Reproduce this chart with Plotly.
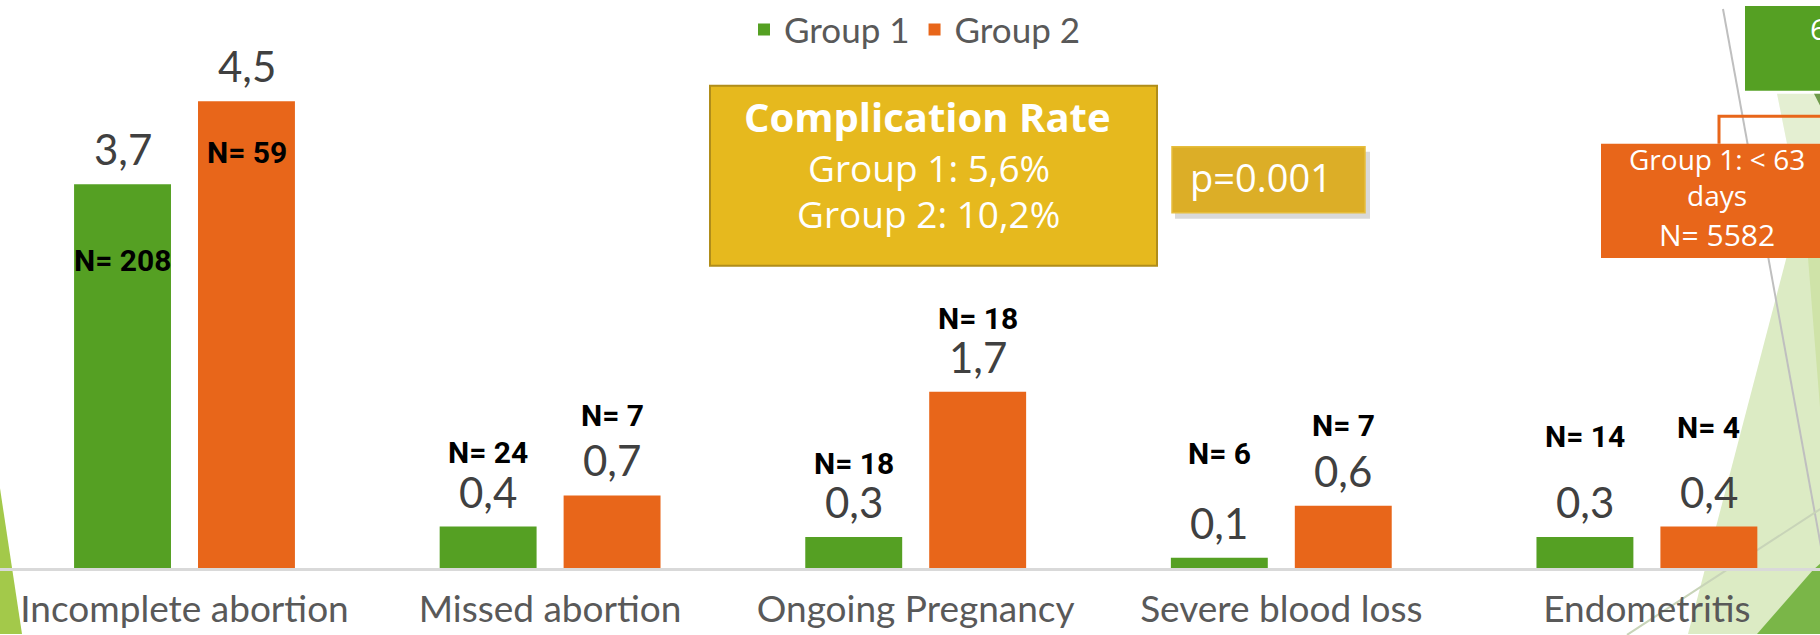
import plotly.graph_objects as go

# Data
CATEGORIES = ["Incomplete abortion", "Missed abortion", "Ongoing Pregnancy",
              "Severe blood loss", "Endometritis"]
SERIES = ["Group 1", "Group 2"]
GROUP1_RATE = [3.7, 0.4, 0.3, 0.1, 0.3]
GROUP2_RATE = [4.5, 0.7, 1.7, 0.6, 0.4]
GROUP1_N = [208, 24, 18, 6, 14]
GROUP2_N = [59, 7, 18, 7, 4]
RATE_TITLE = "Complication Rate"
RATE_LINES = ["Group 1: 5,6%", "Group 2: 10,2%"]
P_VALUE = "p=0.001"
SIDE_BOX_TITLE = "Group 1: &lt; 63<br>days"
SIDE_BOX_N = "N= 5582"

# Colours
GREEN = '#55a023'
ORANGE = '#e8661a'
GOLD = '#e6b91e'
GREY_TEXT = '#595959'

# Canvas geometry (pixels)
W, H = 1820, 635
PLOT_BOTTOM = 568
PX_PER_UNIT = 105.4
CAT_STEP = 365.6
FIRST_CAT_X = 184.5
BAR_SHIFT = 62

# N label offsets above the bar top, pixels (negative = inside the bar)
N1_SHIFT = [-76, 74, 73, 104, 100]
N2_SHIFT = [-51, 80, 73, 80, 99]


def px(x):
    return x / W


def py(y):
    return (PLOT_BOTTOM - y) / PLOT_BOTTOM


def fmt(v):
    return f"{v:.1f}".replace(".", ",")


fig = go.Figure()
for name, vals, color in [(SERIES[0], GROUP1_RATE, GREEN), (SERIES[1], GROUP2_RATE, ORANGE)]:
    fig.add_trace(go.Bar(
        x=CATEGORIES,
        y=vals,
        name=name,
        marker=dict(color=color, line=dict(width=0)),
        hoverinfo='x+y'
    ))

annotations = []
for i, cat in enumerate(CATEGORIES):
    for vals, ns, shifts, xs in [(GROUP1_RATE, GROUP1_N, N1_SHIFT, -BAR_SHIFT),
                                 (GROUP2_RATE, GROUP2_N, N2_SHIFT, BAR_SHIFT)]:
        annotations.append(dict(
            x=cat, y=vals[i], xref='x', yref='y', xshift=xs, yshift=35,
            text=fmt(vals[i]), showarrow=False, xanchor='center', yanchor='middle',
            font=dict(family='Lato', size=42, color='#404040')
        ))
        annotations.append(dict(
            x=cat, y=vals[i], xref='x', yref='y', xshift=xs, yshift=shifts[i],
            text=f"<b>N= {ns[i]}</b>", showarrow=False, xanchor='center', yanchor='middle',
            font=dict(family='Roboto', size=30, color='#000000')
        ))


def label(x, y, text, size, family='Open Sans', anchor='center'):
    return dict(
        x=px(x), y=py(y), xref='paper', yref='paper', showarrow=False,
        text=text, xanchor=anchor, yanchor='middle', borderpad=0,
        font=dict(family=family, size=size, color='white')
    )


# Complication rate box text
annotations.append(label(928, 109, f"<b>{RATE_TITLE}</b>", 40))
for k, line in enumerate(RATE_LINES):
    annotations.append(label(929, 161 + 47 * k, line, 37))

# p-value
annotations.append(label(1189, 171, P_VALUE, 38, anchor='left'))

# side box on the right
annotations.append(label(1717, 171, SIDE_BOX_TITLE, 28))
annotations.append(label(1717, 229, SIDE_BOX_N, 30))
annotations.append(label(1809, 20, "63", 30, anchor='left'))


def poly(points):
    d = "M " + " L ".join(f"{px(x)},{py(y)}" for x, y in points) + " Z"
    return d


shapes = [
    # background facets
    dict(type='path', path=poly([(0, 487), (22, 635), (0, 635)]),
         xref='paper', yref='paper', fillcolor='#a3c94a', line=dict(width=0), layer='below'),
    dict(type='path', path=poly([(1800, 200), (1822, 140), (1822, 635), (1688, 635)]),
         xref='paper', yref='paper', fillcolor='#dcebc4', line=dict(width=0), layer='below'),
    dict(type='path', path=poly([(1808, 253), (1822, 253), (1822, 430)]),
         xref='paper', yref='paper', fillcolor='#cfe3a8', line=dict(width=0), layer='below'),
    dict(type='path', path=poly([(1777, 86), (1822, 86), (1822, 137), (1787, 137)]),
         xref='paper', yref='paper', fillcolor='#e4efd2', line=dict(width=0), layer='below'),
    dict(type='path', path=poly([(1813, 570), (1822, 562), (1822, 635), (1757, 635)]),
         xref='paper', yref='paper', fillcolor='#7ab648', line=dict(width=0), layer='below'),
    dict(type='line', x0=px(1723), y0=py(0), x1=px(1822), y1=py(552),
         xref='paper', yref='paper', line=dict(color='#bfbfbf', width=2), layer='below'),
    dict(type='line', x0=px(1822), y0=py(507), x1=px(1627), y1=py(636),
         xref='paper', yref='paper', line=dict(color='#c8d4b8', width=2), layer='below'),
    # complication rate box
    dict(type='rect', x0=px(710), x1=px(1157), y0=py(78), y1=py(261),
         xref='paper', yref='paper', fillcolor=GOLD, line=dict(color='#b08d1a', width=2)),
    # p-value box with shadow
    dict(type='rect', x0=px(1175), x1=px(1370), y0=py(145), y1=py(213),
         xref='paper', yref='paper', fillcolor='rgba(0,0,0,0.15)', line=dict(width=0)),
    dict(type='rect', x0=px(1172), x1=px(1365), y0=py(140), y1=py(207),
         xref='paper', yref='paper', fillcolor='#dcae27', line=dict(color='#e6bd3c', width=1.5)),
    # right side boxes
    dict(type='rect', x0=px(1745), x1=px(1825), y0=py(-3), y1=py(83),
         xref='paper', yref='paper', fillcolor=GREEN, line=dict(width=0)),
    dict(type='path', path=poly([(1814, 86), (1822, 86), (1822, 102)]),
         xref='paper', yref='paper', fillcolor='#6e9a4a', line=dict(width=0)),
    dict(type='path',
         path=f"M {px(1719)},{py(137)} L {px(1719)},{py(109)} L {px(1825)},{py(109)}",
         xref='paper', yref='paper', line=dict(color=ORANGE, width=3)),
    dict(type='rect', x0=px(1601), x1=px(1825), y0=py(137), y1=py(253),
         xref='paper', yref='paper', fillcolor=ORANGE, line=dict(width=0)),
]

x_start = -FIRST_CAT_X / CAT_STEP
fig.update_layout(
    width=W,
    height=H,
    barmode='group',
    bargap=0.322,
    bargroupgap=0.218,
    margin=dict(l=0, r=0, t=0, b=H - PLOT_BOTTOM, pad=0),
    paper_bgcolor='white',
    plot_bgcolor='rgba(0,0,0,0)',
    showlegend=True,
    legend=dict(
        orientation='h', x=px(915), xanchor='center', y=py(21), yanchor='middle',
        font=dict(family='Lato', size=35, color=GREY_TEXT),
        bgcolor='rgba(0,0,0,0)', traceorder='normal'
    ),
    xaxis=dict(
        type='category',
        range=[x_start, x_start + W / CAT_STEP],
        showline=True, linecolor='#d9d9d9', linewidth=3,
        showgrid=False, zeroline=False, ticks='',
        ticklabelstandoff=7,
        tickfont=dict(family='Lato', size=37, color=GREY_TEXT),
        automargin=False,
        fixedrange=True
    ),
    yaxis=dict(
        range=[0, PLOT_BOTTOM / PX_PER_UNIT],
        visible=False, showgrid=False, zeroline=False, fixedrange=True
    ),
    annotations=annotations,
    shapes=shapes
)

# drop the default page margin so the slide sits at the window's top-left corner
fig.write_html("out.html", config={'displayModeBar': False},
               post_script="document.body.style.margin='0';")
